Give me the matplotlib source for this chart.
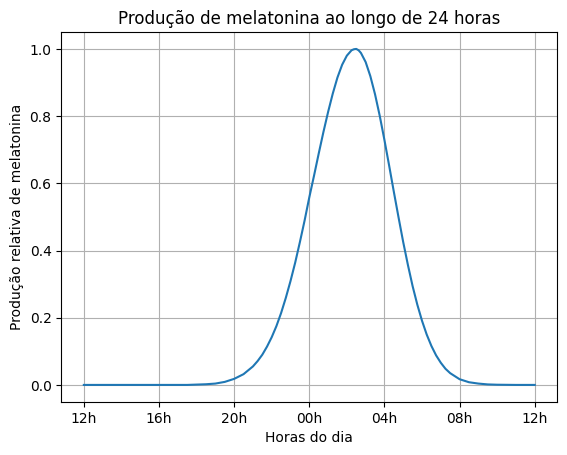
import numpy as np
import matplotlib
matplotlib.use("Agg")
from matplotlib import pyplot as plt

# horas contadas a partir do meio-dia (12 = 12h, 24 = 00h, 36 = 12h do dia seguinte)
horas = [
    12, 13, 14, 15, 16, 17, 17.5, 18, 18.5, 19, 19.5, 20, 20.5, 21, 21.25,
    21.5, 21.75, 22, 22.25, 22.5, 22.75, 23, 23.25, 23.5, 23.75, 24, 24.25,
    24.5, 24.75, 25, 25.25, 25.5, 25.75, 26, 26.25, 26.375, 26.5, 26.625,
    26.75, 27, 27.25, 27.5, 27.75, 28, 28.25, 28.5, 28.75, 29, 29.25, 29.5,
    29.75, 30, 30.25, 30.5, 30.75, 31, 31.25, 31.5, 32, 32.5, 33, 33.5, 34,
    35, 36,
]
melatonina = [
    0.0, 0.0, 0.0, 0.0, 0.0, 0.0, 0.0, 0.001, 0.002, 0.004, 0.009, 0.018,
    0.032, 0.055, 0.071, 0.090, 0.114, 0.142, 0.175, 0.214, 0.259, 0.309,
    0.364, 0.425, 0.489, 0.558, 0.622, 0.688, 0.752, 0.812, 0.867, 0.915,
    0.953, 0.980, 0.996, 0.999, 1.000, 0.996, 0.988, 0.961, 0.919, 0.865,
    0.801, 0.729, 0.653, 0.575, 0.499, 0.425, 0.357, 0.294, 0.239, 0.191,
    0.150, 0.116, 0.088, 0.066, 0.048, 0.035, 0.017, 0.008, 0.004, 0.0015,
    0.0006, 0.0, 0.0,
]
tick_horas = [12, 16, 20, 24, 28, 32, 36]
tick_labels = ["12h", "16h", "20h", "00h", "04h", "08h", "12h"]

plt.figure()
plt.plot(horas, melatonina)
plt.xticks(tick_horas, tick_labels)
plt.xlabel("Horas do dia")
plt.ylabel("Produção relativa de melatonina")
plt.title("Produção de melatonina ao longo de 24 horas")
plt.grid(True)

plt.savefig("out.png", bbox_inches="tight")
plt.close()
